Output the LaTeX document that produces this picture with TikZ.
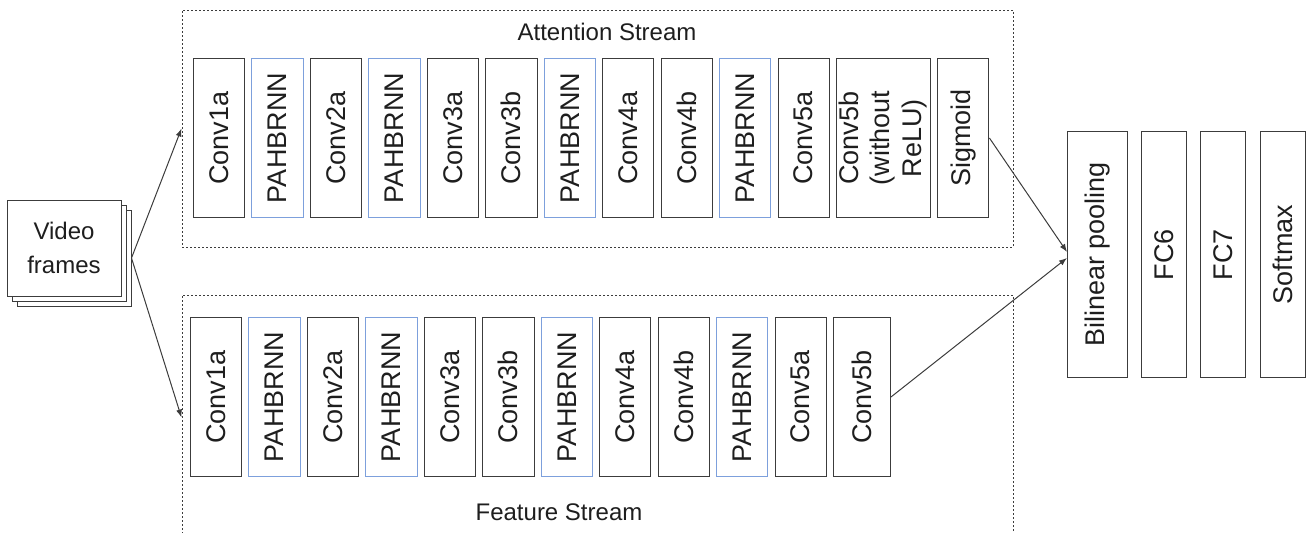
\documentclass[tikz,border=0pt]{standalone}
\usepackage{fontspec}
\setmainfont{Liberation Sans}
\usepackage{graphicx}
\usetikzlibrary{arrows.meta,positioning,shadows}
\definecolor{linija}{RGB}{60,60,60}
\definecolor{slojplava}{RGB}{125,160,220}
\definecolor{tekst}{RGB}{30,30,30}
\newcommand{\uspravno}[1]{\rotatebox{90}{#1}}

\begin{document}
\begin{tikzpicture}[
    x=0.75pt,y=-0.75pt,
    node distance=4.6pt,
    sloj/.style={rectangle,draw=linija,line width=0.75pt,minimum width=38.5pt,
                 minimum height=119.25pt,inner sep=0pt,align=center,text=tekst,
                 font=\fontsize{20.25pt}{25.5pt}\selectfont},
    slojp/.style={sloj,draw=slojplava},
    kraj/.style={sloj,minimum width=33.75pt,minimum height=184.5pt},
    tok/.style={rectangle,draw=linija,dashed,dash pattern=on 1.5pt off 1.5pt,
                line width=0.75pt,minimum width=623.25pt},
    natpis/.style={text=tekst,font=\fontsize{18pt}{22pt}\selectfont},
    strelica/.style={-{Latex[length=6pt,width=4.5pt]},draw=linija,line width=0.75pt}
]
\useasboundingbox (0,0) rectangle (1310,532);

% ulaz
\node[rectangle,draw=linija,line width=0.75pt,fill=white,minimum width=85.5pt,
      minimum height=72pt,align=center,text=tekst,
      font=\fontsize{18pt}{25.5pt}\selectfont,
      double copy shadow={shadow xshift=3.75pt,shadow yshift=-3.75pt}]
      (vf) at (64,248) {Video\\frames};

% tokovi
\node[tok,minimum height=177.75pt] (att) at (597.5,128.5) {};
\node[tok,minimum height=183.75pt] (fea) at (597.5,417.5) {};
\node[natpis] (attl) at (607,32) {Attention Stream};
\node[natpis] (feal) at (559,512) {Feature Stream};

% attention stream
\node[sloj] (a1) at (219,138) {\uspravno{Conv1a}};
\node[slojp,right=of a1] (a2) {\uspravno{PAHBRNN}};
\node[sloj,right=of a2] (a3) {\uspravno{Conv2a}};
\node[slojp,right=of a3] (a4) {\uspravno{PAHBRNN}};
\node[sloj,right=of a4] (a5) {\uspravno{Conv3a}};
\node[sloj,right=of a5] (a6) {\uspravno{Conv3b}};
\node[slojp,right=of a6] (a7) {\uspravno{PAHBRNN}};
\node[sloj,right=of a7] (a8) {\uspravno{Conv4a}};
\node[sloj,right=of a8] (a9) {\uspravno{Conv4b}};
\node[slojp,right=of a9] (a10) {\uspravno{PAHBRNN}};
\node[sloj,right=of a10] (a11) {\uspravno{Conv5a}};
\node[sloj,right=of a11,minimum width=70.5pt] (a12)
     {\uspravno{\def\arraystretch{0.92}\begin{tabular}{@{}c@{}}Conv5b\\(without\\ReLU)\end{tabular}}};
\node[sloj,right=of a12] (a13) {\uspravno{Sigmoid}};

% feature stream
\node[sloj] (f1) at (216,397) {\uspravno{Conv1a}};
\node[slojp,right=of f1] (f2) {\uspravno{PAHBRNN}};
\node[sloj,right=of f2] (f3) {\uspravno{Conv2a}};
\node[slojp,right=of f3] (f4) {\uspravno{PAHBRNN}};
\node[sloj,right=of f4] (f5) {\uspravno{Conv3a}};
\node[sloj,right=of f5] (f6) {\uspravno{Conv3b}};
\node[slojp,right=of f6] (f7) {\uspravno{PAHBRNN}};
\node[sloj,right=of f7] (f8) {\uspravno{Conv4a}};
\node[sloj,right=of f8] (f9) {\uspravno{Conv4b}};
\node[slojp,right=of f9] (f10) {\uspravno{PAHBRNN}};
\node[sloj,right=of f10] (f11) {\uspravno{Conv5a}};
\node[sloj,right=of f11,minimum width=42.75pt] (f12) {\uspravno{Conv5b}};

% izlaz
\node[kraj,minimum width=45pt] (bp) at (1097.5,254.5) {\uspravno{Bilinear pooling}};
\node[kraj,right=9.75pt of bp] (fc6) {\uspravno{FC6}};
\node[kraj,right=9.75pt of fc6] (fc7) {\uspravno{FC7}};
\node[kraj,right=10.5pt of fc7] (sm) {\uspravno{Softmax}};

\draw[strelica] ([shift={(10,10)}]vf.east) -- (att.west);
\draw[strelica] ([shift={(10,10)}]vf.east) -- (fea.west);
\draw[strelica] (a13.east) -- ([yshift=1.9pt]bp.west);
\draw[strelica] (f12.east) -- ([yshift=-2.6pt]bp.west);
\end{tikzpicture}
\end{document}
